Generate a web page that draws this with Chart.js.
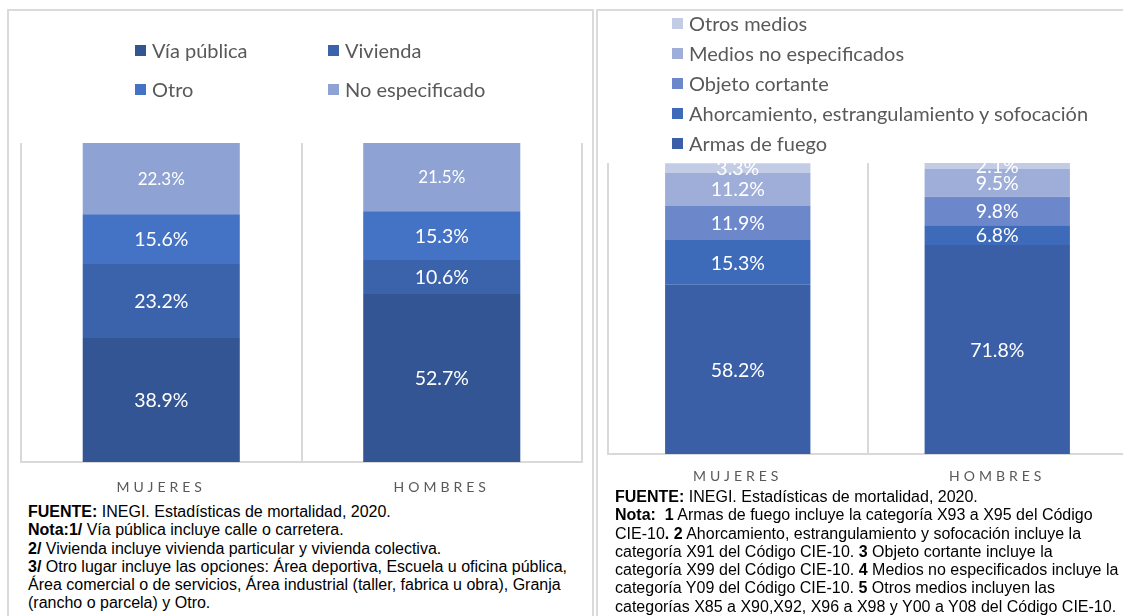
<!DOCTYPE html>
<html>
<head>
<meta charset="utf-8">
<script src="https://cdn.jsdelivr.net/npm/chart.js@4.4.0/dist/chart.umd.min.js"></script>
<style>
    body { margin: 0; width: 1123px; height: 616px; overflow: hidden; position: relative; background: #fff; font-family: Lato, sans-serif; }
    .panel { position: absolute; border: 2px solid #DADADA; border-bottom: none; }
    #panel1 { left: 7px; top: 9px; width: 583px; height: 620px; }
    #panel2 { left: 596px; top: 9px; width: 540px; height: 620px; border-right: none; }
    .lienzo { position: absolute; top: 0; }
    #wrap1 { left: 0; width: 595px; height: 500px; }
    #wrap2 { left: 597px; width: 540px; height: 500px; }
    .leyenda { position: absolute; color: #595959; font-size: 20px; white-space: nowrap; display: flex; align-items: center; transform: translateY(-50%); }
    .leyenda i { display: inline-block; width: 11px; height: 11px; margin-right: 6px; }
    .nota { position: absolute; font-family: "Liberation Sans", Arial, sans-serif; font-size: 16px; line-height: 18.3px; color: #000; white-space: nowrap; }
</style>
</head>
<body>
<div class="panel" id="panel1"></div>
<div class="panel" id="panel2"></div>
<div class="lienzo" id="wrap1"><canvas id="myChart"></canvas></div>
<div class="lienzo" id="wrap2"><canvas id="myChart2"></canvas></div>

<div class="nota" style="left:28px; top:503px;">
<b>FUENTE:</b> INEGI. Estadísticas de mortalidad, 2020.<br>
<b>Nota:1/</b> Vía pública incluye calle o carretera.<br>
<b>2/</b> Vivienda incluye vivienda particular y vivienda colectiva.<br>
<b>3/</b> Otro lugar incluye las opciones: Área deportiva, Escuela u oficina pública,<br>
Área comercial o de servicios, Área industrial (taller, fabrica u obra), Granja<br>
(rancho o parcela) y Otro.
</div>
<div class="nota" style="left:615px; top:488px;">
<b>FUENTE:</b> INEGI. Estadísticas de mortalidad, 2020.<br>
<b>Nota:&nbsp; 1</b> Armas de fuego incluye la categoría X93 a X95 del Código<br>
CIE-10<b>. 2</b> Ahorcamiento, estrangulamiento y sofocación incluye la<br>
categoría X91 del Código CIE-10. <b>3</b> Objeto cortante incluye la<br>
categoría X99 del Código CIE-10. <b>4</b> Medios no especificados incluye la<br>
categoría Y09 del Código CIE-10. <b>5</b> Otros medios incluyen las<br>
categorías X85 a X90,X92, X96 a X98 y Y00 a Y08 del Código CIE-10.
</div>

<script>
// categorias (eje x)
const categorias = ['MUJERES', 'HOMBRES'];

// grafico 1: lugar de ocurrencia (%)
const lugares = ['Vía pública', 'Vivienda', 'Otro', 'No especificado'];
const viaPublica = [38.9, 52.7];
const vivienda = [23.2, 10.6];
const otro = [15.6, 15.3];
const noEspecificado = [22.3, 21.5];

// grafico 2: medio empleado (%)
const medios = ['Armas de fuego', 'Ahorcamiento, estrangulamiento y sofocación', 'Objeto cortante', 'Medios no especificados', 'Otros medios'];
const armasFuego = [58.2, 71.8];
const ahorcamiento = [15.3, 6.8];
const objetoCortante = [11.9, 9.8];
const mediosNoEsp = [11.2, 9.5];
const otrosMedios = [3.3, 2.1];

// letras separadas en las etiquetas del eje
const espaciado = {
    id: 'espaciado',
    beforeDraw: (chart) => { chart.ctx.letterSpacing = '4px'; },
    beforeDatasetsDraw: (chart) => { chart.ctx.letterSpacing = '0px'; }
};

// porcentajes dentro de cada segmento
const etiquetas = {
    id: 'etiquetas',
    afterDatasetsDraw: (chart) => {
        const ctx = chart.ctx;
        const area = chart.chartArea;
        ctx.save();
        ctx.beginPath();
        ctx.rect(area.left, area.top, area.right - area.left, area.bottom - area.top);
        ctx.clip();
        ctx.fillStyle = '#ffffff';
        ctx.textAlign = 'center';
        ctx.textBaseline = 'middle';
        chart.data.datasets.forEach((ds, i) => {
            ctx.font = (ds.labelSize || 19) + 'px Lato';
            chart.getDatasetMeta(i).data.forEach((bar, j) => {
                const p = bar.getProps(['x', 'y', 'base'], true);
                ctx.fillText(ds.data[j].toFixed(1) + '%', p.x, (p.y + p.base) / 2 + 1);
            });
        });
        ctx.restore();
    }
};

function opciones(padding, alto, tickPad) {
    return {
        responsive: true,
        maintainAspectRatio: false,
        animation: false,
        layout: { padding: padding },
        plugins: { legend: { display: false }, tooltip: { enabled: false } },
        scales: {
            x: {
                stacked: true,
                grid: { color: '#D9D9D9', lineWidth: 2, drawTicks: false, offset: true },
                border: { display: true, color: '#D9D9D9', width: 2 },
                ticks: { color: '#595959', font: { family: 'Lato', size: 14 }, padding: tickPad, maxRotation: 0, autoSkip: false },
                afterFit: (scale) => { scale.height = alto; }
            },
            y: { stacked: true, display: false, min: 0, max: 100 }
        }
    };
}

function serie(label, data, color, size) {
    return {
        label: label,
        data: data,
        backgroundColor: color,
        borderWidth: 0,
        barPercentage: 0.56,
        categoryPercentage: 1,
        labelSize: size
    };
}

var ctx = document.getElementById('myChart').getContext('2d');
var myChart = new Chart(ctx, {
    type: 'bar',
    data: {
        labels: categorias,
        datasets: [
            serie(lugares[0], viaPublica, '#335593', 19.5),
            serie(lugares[1], vivienda, '#3B63AC', 19.5),
            serie(lugares[2], otro, '#4472C4', 19.5),
            serie(lugares[3], noEspecificado, '#8FA2D4', 17)
        ]
    },
    options: opciones({ top: 143, left: 21, right: 13, bottom: 0 }, 38, 17),
    plugins: [espaciado, etiquetas]
});

var ctx2 = document.getElementById('myChart2').getContext('2d');
var myChart2 = new Chart(ctx2, {
    type: 'bar',
    data: {
        labels: categorias,
        datasets: [
            serie(medios[0], armasFuego, '#3A5FA7', 19.5),
            serie(medios[1], ahorcamiento, '#3D6BBA', 19.5),
            serie(medios[2], objetoCortante, '#6C87CA', 19.5),
            serie(medios[3], mediosNoEsp, '#9FAED8', 19.5),
            serie(medios[4], otrosMedios, '#C3CCE5', 19.5)
        ]
    },
    options: opciones({ top: 163, left: 11, right: 10, bottom: 0 }, 46, 14),
    plugins: [espaciado, etiquetas]
});

// leyendas en HTML a partir de los datasets
function leyenda(chart, posicion) {
    chart.data.datasets.forEach((ds, i) => {
        const pos = posicion(i);
        const div = document.createElement('div');
        div.className = 'leyenda';
        div.style.left = pos[0] + 'px';
        div.style.top = pos[1] + 'px';
        div.innerHTML = '<i style="background:' + ds.backgroundColor + '"></i>' + ds.label;
        document.body.appendChild(div);
    });
}
leyenda(myChart, (i) => [[135, 328][i % 2], [50, 89][Math.floor(i / 2)]]);
leyenda(myChart2, (i) => [672, 143 - i * 30]);
</script>
</body>
</html>
